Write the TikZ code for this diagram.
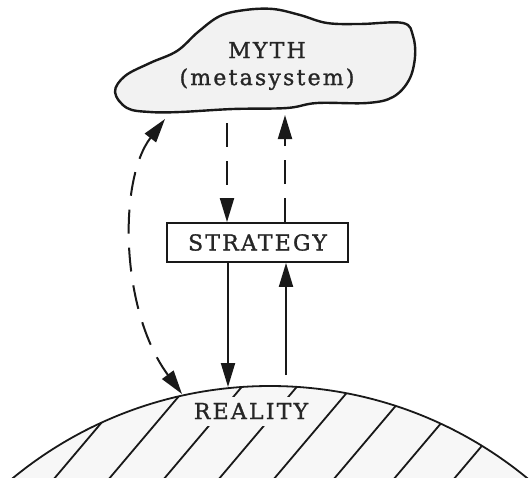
\documentclass[tikz,border=0pt]{standalone}
\usepackage{fontspec}
\setmainfont{DejaVu Serif}
\usetikzlibrary{arrows.meta}
\tikzset{
  ink/.style={draw=black!90},
  arr/.style={ink, line width=2pt, -{Triangle[length=24pt,width=14pt]}},
  darr/.style={arr, dash pattern=on 24pt off 14pt},
  lbl/.style={font=\fontsize{22}{26}\selectfont\addfontfeature{LetterSpace=10,FakeBold=1.2}, text=black!85},
}
\begin{document}
\begin{tikzpicture}[x=1pt,y=-1pt]
\useasboundingbox (0,0) rectangle (532,477);
\fill[white] (0,0) rectangle (532,477);
% cloud
\draw[ink, line width=2.4pt, fill=black!5] plot[smooth cycle, tension=0.6] coordinates {
 (115,92) (125,76) (150,63) (177,51) (198,32) (220,16) (245,10) (273,9) (300,15)
 (327,23) (360,24) (403,23) (413,36) (415,57) (409,80) (393,97) (367,103) (317,103)
 (287,108) (233,109) (180,112) (150,112) (127,108)};
\node[lbl, align=center, inner sep=0pt] (myth) at (267,66) {MYTH\\[1pt](metasystem)};
% reality
\begin{scope}
\clip (270,791) circle (405);
\fill[black!3] (270,791) circle (405);
\foreach \x in {53,108,163,218,273,333,393,453}
  \draw[ink, line width=1.8pt] (\x,480) -- ++(90,-106.4);
\end{scope}
\draw[ink, line width=1.8pt] (270,791) circle (405);
\node[lbl, fill=black!3, inner sep=0pt, minimum width=132pt, minimum height=29pt] (reality) at (251,411) {REALITY};
% strategy
\node[lbl, ink, line width=1.8pt, fill=white, minimum width=181pt, minimum height=39pt, inner sep=0pt] (strategy) at (257.5,242.5) {STRATEGY};
% endpoints
\coordinate (m1) at (227,123);
\coordinate (m2) at (285,115);
\coordinate (m3) at (165,119);
\coordinate (r1) at (228,387);
\coordinate (r2) at (286,375);
\coordinate (r3) at (182,394);
% arrows
\draw[darr] (m1) -- (m1 |- strategy.north);
\draw[darr] (m2 |- strategy.north) -- (m2);
\draw[arr] (r1 |- strategy.south) -- (r1);
\draw[arr] (r2) -- (r2 |- strategy.south);
\draw[darr, {Triangle[length=24pt,width=14pt]}-{Triangle[length=24pt,width=14pt]}] (m3) .. controls (118,180) and (120,310) .. (r3);
\end{tikzpicture}
\end{document}
